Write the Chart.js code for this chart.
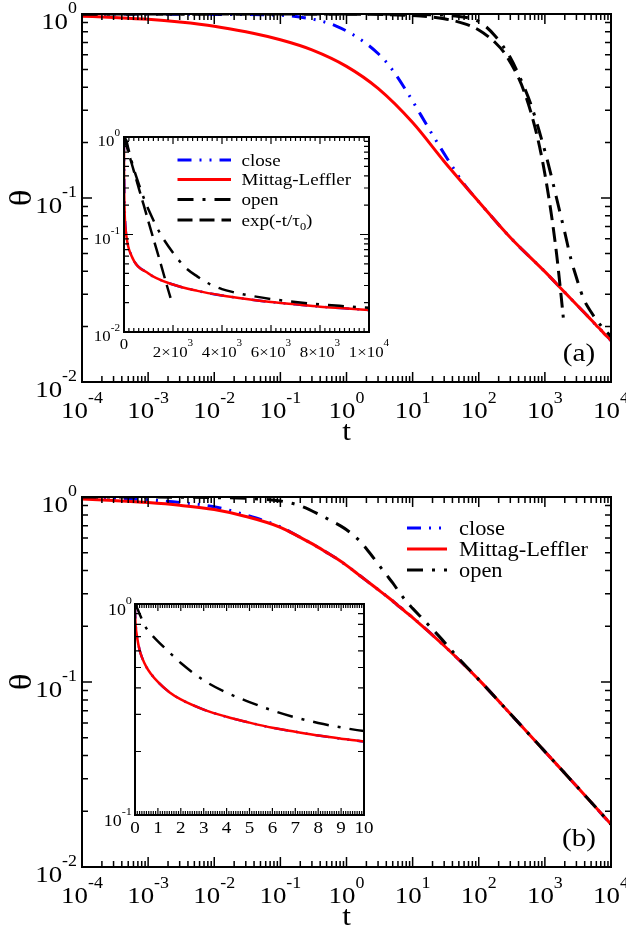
<!DOCTYPE html>
<html>
<head>
<meta charset="utf-8">
<title>theta(t) relaxation</title>
<script src="https://cdn.jsdelivr.net/npm/chart.js@4.4.1/dist/chart.umd.min.js"></script>
<style>
  html, body { margin: 0; padding: 0; background: #fff; }
  #page { position: relative; width: 626px; height: 930px; overflow: hidden; }
  canvas { position: absolute; }
</style>
</head>
<body>
<div id="page">
  <canvas id="mainA" width="626" height="465" style="left:0;top:0"></canvas>
  <canvas id="mainB" width="626" height="465" style="left:0;top:465px"></canvas>
  <canvas id="insetA" width="310" height="250" style="left:80px;top:120px"></canvas>
  <canvas id="insetB" width="290" height="260" style="left:90px;top:590px"></canvas>
</div>
<script>
// ---- panel (a) data ----
const tA_close = [1e-4, 1e-3, 1e-2, 0.1, 0.23, 0.44, 0.7, 1.2, 2, 3, 4.5, 8.5, 18, 27, 40, 60, 100, 300, 1000, 2000, 3000, 4000, 5000, 6000, 7000, 8000, 9000, 10000];
const closeA = [1.0, 0.999, 0.995, 0.985, 0.955, 0.91, 0.86, 0.78, 0.69, 0.61, 0.52, 0.37, 0.235, 0.185, 0.148, 0.119, 0.0955, 0.061, 0.0398, 0.0307, 0.0264, 0.0237, 0.0218, 0.0203, 0.0192, 0.0182, 0.0175, 0.0168];

const tA_ml = [1e-4, 3e-4, 1e-3, 3e-3, 1e-2, 3e-2, 0.1, 0.3, 1, 3, 10, 30, 100, 300, 1000, 2000, 3000, 4000, 5000, 6000, 7000, 8000, 9000, 10000];
const mlA = [0.973, 0.957, 0.935, 0.904, 0.859, 0.80, 0.724, 0.638, 0.519, 0.394, 0.257, 0.158, 0.0955, 0.061, 0.0398, 0.0307, 0.0264, 0.0237, 0.0218, 0.0203, 0.0192, 0.0182, 0.0175, 0.0168];

const tA_open = [1e-4, 1, 10, 50, 100, 177, 300, 400, 620, 870, 1000, 1230, 1500, 2000, 2500, 3000, 3500, 4000, 4500, 5000, 6000, 7000, 8000, 9000, 10000];
const openA = [1.0, 1.0, 0.995, 0.97, 0.91, 0.76, 0.58, 0.47, 0.32, 0.215, 0.18, 0.135, 0.10, 0.065, 0.046, 0.037, 0.031, 0.0275, 0.0255, 0.024, 0.0218, 0.0203, 0.0192, 0.0184, 0.0177];

const tA_exp = [1e-4, 1, 10, 30, 60, 100, 177, 250, 400, 500, 620, 750, 870, 1000, 1250, 1500, 1750, 1900];
const expA = [1.0, 0.998, 0.98, 0.942, 0.887, 0.819, 0.70, 0.607, 0.449, 0.368, 0.289, 0.223, 0.176, 0.135, 0.082, 0.050, 0.030, 0.0224];

// ---- panel (b) data ----
const tB = [1e-4, 3e-4, 1e-3, 3e-3, 1e-2, 3e-2, 0.1, 0.2, 0.3, 0.5, 0.7, 1, 1.5, 2, 3, 4, 5, 6, 7, 8, 9, 10, 30, 100, 300, 1000, 3000, 10000];
const mlB = [0.975, 0.957, 0.933, 0.902, 0.855, 0.785, 0.686, 0.605, 0.560, 0.502, 0.466, 0.427, 0.382, 0.353, 0.316, 0.292, 0.274, 0.259, 0.248, 0.238, 0.230, 0.223, 0.157, 0.103, 0.0673, 0.0421, 0.0274, 0.0170];
const closeB = [0.995, 0.985, 0.965, 0.935, 0.885, 0.80, 0.69, 0.605, 0.560, 0.502, 0.466, 0.427, 0.382, 0.353, 0.316, 0.292, 0.274, 0.259, 0.248, 0.238, 0.230, 0.223, 0.157, 0.103, 0.0673, 0.0421, 0.0274, 0.0170];

const tB_open = [1e-4, 1e-3, 1e-2, 0.05, 0.1, 0.2, 0.4, 0.6, 0.8, 1, 1.5, 2, 3, 4, 5, 6, 7, 8, 9, 10, 25, 50, 100, 300, 1000, 3000, 10000];
const openB = [1.0, 0.999, 0.993, 0.975, 0.952, 0.897, 0.80, 0.74, 0.70, 0.665, 0.59, 0.525, 0.435, 0.38, 0.343, 0.313, 0.29, 0.273, 0.26, 0.25, 0.177, 0.134, 0.103, 0.0673, 0.0421, 0.0274, 0.0170];

// ---- ticks and labels ----
const mainXTicks = [1e-4, 1e-3, 1e-2, 1e-1, 1, 10, 100, 1000, 10000];
const mainXExp = ['-4', '-3', '-2', '-1', '0', '1', '2', '3', '4'];
const mainYTicks = [0.01, 0.1, 1];
const mainYExp = ['-2', '-1', '0'];

const insetAXTicks = [0, 2000, 4000, 6000, 8000, 10000];
const insetAXBase = ['0', '2\u00d710', '4\u00d710', '6\u00d710', '8\u00d710', '1\u00d710'];
const insetAXExp = ['', '3', '3', '3', '3', '4'];
const insetAYTicks = [0.01, 0.1, 1];
const insetAYExp = ['-2', '-1', '0'];

const insetBXTicks = [0, 1, 2, 3, 4, 5, 6, 7, 8, 9, 10];
const insetBXLabels = ['0', '1', '2', '3', '4', '5', '6', '7', '8', '9', '10'];
const insetBYTicks = [0.1, 1];
const insetBYExp = ['-1', '0'];

const legendA = ['close', 'Mittag-Leffler', 'open', 'exp(-t/\u03c4'];
const legendB = ['close', 'Mittag-Leffler', 'open'];

// ---- styles ----
const SERIF = '"Liberation Serif", "DejaVu Serif", serif';
const STRETCH = 1.12;
const STYLE = {
    close: { color: '#0000ff', dash: [14, 8, 2, 8, 2, 8] },
    ml: { color: '#ff0000', dash: [] },
    open: { color: '#000000', dash: [16, 9, 3, 9] },
    exp: { color: '#000000', dash: [15, 7] }
};

function pairs(ts, vs) {
    return ts.map((t, i) => ({ x: t, y: vs[i] }));
}

function series(kind, ts, vs, width) {
    return {
        data: pairs(ts, vs),
        borderColor: STYLE[kind].color,
        borderDash: STYLE[kind].dash,
        borderWidth: width,
        pointRadius: 0,
        fill: false
    };
}

// Text helpers (slightly widened serif, like the reference)
function textW(ctx, s, size) {
    ctx.font = size + 'px ' + SERIF;
    return ctx.measureText(s).width * STRETCH;
}

function text(ctx, s, x, y, size, align) {
    const w = textW(ctx, s, size);
    const x0 = align === 'center' ? x - w / 2 : align === 'right' ? x - w : x;
    ctx.save();
    ctx.translate(x0, y);
    ctx.scale(STRETCH, 1);
    ctx.font = size + 'px ' + SERIF;
    ctx.fillStyle = '#000';
    ctx.textAlign = 'left';
    ctx.textBaseline = 'alphabetic';
    ctx.fillText(s, 0, 0);
    ctx.restore();
    return w;
}

function powText(ctx, base, sup, x, y, size, supSize, rise, align) {
    const wb = textW(ctx, base, size);
    const ws = sup ? textW(ctx, sup, supSize) : 0;
    const w = wb + ws;
    const x0 = align === 'center' ? x - w / 2 : align === 'right' ? x - w : x;
    text(ctx, base, x0, y, size, 'left');
    if (sup) text(ctx, sup, x0 + wb, y - rise, supSize, 'left');
}

function logMinor(lo, hi) {
    const out = [];
    for (let e = lo; e < hi; e++) {
        for (let m = 2; m <= 9; m++) out.push(m * Math.pow(10, e));
    }
    return out;
}

function linMinor(lo, hi, step) {
    const out = [];
    const n = Math.round((hi - lo) / step);
    for (let i = 0; i <= n; i++) out.push(lo + i * step);
    return out;
}

// frame with inward ticks on all four sides
function drawFrame(chart, s) {
    const ctx = chart.ctx, a = chart.chartArea;
    const xs = chart.scales.x, ys = chart.scales.y;
    ctx.save();
    ctx.strokeStyle = '#000';
    ctx.lineWidth = s.tickW;
    ctx.beginPath();
    const xt = (list, len) => list.forEach(v => {
        const p = xs.getPixelForValue(v);
        ctx.moveTo(p, a.bottom); ctx.lineTo(p, a.bottom - len);
        ctx.moveTo(p, a.top); ctx.lineTo(p, a.top + len);
    });
    const yt = (list, len) => list.forEach(v => {
        const p = ys.getPixelForValue(v);
        ctx.moveTo(a.left, p); ctx.lineTo(a.left + len, p);
        ctx.moveTo(a.right, p); ctx.lineTo(a.right - len, p);
    });
    xt(s.xMajor, s.xMajLen); xt(s.xMinor, s.xMinLen);
    yt(s.yMajor, s.yMajLen); yt(s.yMinor, s.yMinLen);
    ctx.stroke();
    ctx.lineWidth = s.frameW;
    ctx.strokeRect(a.left, a.top, a.right - a.left, a.bottom - a.top);
    ctx.restore();
}

function drawLegend(ctx, names, kinds, x1, x2, tx, ys, size, width) {
    names.forEach((name, i) => {
        const st = STYLE[kinds[i]];
        ctx.save();
        ctx.strokeStyle = st.color;
        ctx.lineWidth = width;
        ctx.setLineDash(st.dash);
        ctx.beginPath();
        ctx.moveTo(x1, ys[i]);
        ctx.lineTo(x2, ys[i]);
        ctx.stroke();
        ctx.restore();
        const w = text(ctx, name, tx, ys[i] + size * 0.33, size, 'left');
        if (kinds[i] === 'exp') {
            const ws = text(ctx, '0', tx + w, ys[i] + size * 0.33 + 4, size * 0.65, 'left');
            text(ctx, ')', tx + w + ws, ys[i] + size * 0.33, size, 'left');
        }
    });
}

function mainDeco(chart, letter) {
    const ctx = chart.ctx, a = chart.chartArea;
    const xs = chart.scales.x, ys = chart.scales.y;
    drawFrame(chart, {
        xMajor: mainXTicks, xMinor: logMinor(-4, 4),
        yMajor: mainYTicks, yMinor: logMinor(-2, 0),
        xMajLen: 10, xMinLen: 6, yMajLen: 10, yMinLen: 6, frameW: 2, tickW: 1.5
    });
    mainXTicks.forEach((v, i) => {
        powText(ctx, '10', mainXExp[i], xs.getPixelForValue(v), a.bottom + 36, 24, 16, 15, 'center');
    });
    mainYTicks.forEach((v, i) => {
        powText(ctx, '10', mainYExp[i], a.left - 5, ys.getPixelForValue(v) + 15, 24, 16, 16, 'right');
    });
    text(ctx, 't', (a.left + a.right) / 2, a.bottom + 58, 28, 'center');
    ctx.save();
    ctx.translate(21, (a.top + a.bottom) / 2);
    ctx.rotate(-Math.PI / 2);
    text(ctx, '\u03b8', 0, 10, 31, 'center');
    ctx.restore();
    text(ctx, letter, 579, a.bottom - 21, 26, 'center');
}

function baseOptions(xType, xMin, xMax, yMin, yMax, pad) {
    return {
        responsive: false,
        animation: false,
        events: [],
        layout: { padding: pad },
        plugins: { legend: { display: false }, tooltip: { enabled: false } },
        elements: { line: { cubicInterpolationMode: 'monotone', borderCapStyle: 'butt' } },
        scales: {
            x: { type: xType, min: xMin, max: xMax, display: false },
            y: { type: 'logarithmic', min: yMin, max: yMax, display: false }
        }
    };
}

// ---- panel (a) main ----
new Chart(document.getElementById('mainA'), {
    type: 'line',
    data: {
        datasets: [
            series('exp', tA_exp, expA, 3),
            series('open', tA_open, openA, 3),
            series('ml', tA_ml, mlA, 3),
            series('close', tA_close, closeA, 3)
        ]
    },
    options: baseOptions('logarithmic', 1e-4, 1e4, 0.01, 1, { left: 82, top: 14, right: 15, bottom: 83 }),
    plugins: [{ id: 'decoA', afterDatasetsDraw: c => mainDeco(c, '(a)') }]
});

// ---- panel (b) main ----
new Chart(document.getElementById('mainB'), {
    type: 'line',
    data: {
        datasets: [
            series('open', tB_open, openB, 3),
            series('ml', tB, mlB, 3),
            series('close', tB, closeB, 3)
        ]
    },
    options: baseOptions('logarithmic', 1e-4, 1e4, 0.01, 1, { left: 82, top: 32, right: 15, bottom: 63 }),
    plugins: [{
        id: 'decoB',
        afterDatasetsDraw: c => {
            mainDeco(c, '(b)');
            const ctx = c.ctx;
            ctx.save();
            ctx.translate(0, -465);
            drawLegend(ctx, legendB, ['close', 'ml', 'open'], 407, 447, 459, [528, 549, 570], 20, 3);
            ctx.restore();
        }
    }]
});

// ---- inset (a) ----
new Chart(document.getElementById('insetA'), {
    type: 'line',
    data: {
        datasets: [
            series('exp', tA_exp, expA, 2.5),
            series('open', tA_open, openA, 2.5),
            series('ml', tA_ml, mlA, 2.5),
            series('close', tA_close, closeA, 2.5)
        ]
    },
    options: baseOptions('linear', 0, 10000, 0.01, 1, { left: 44, top: 17, right: 21, bottom: 38 }),
    plugins: [{
        id: 'decoIA',
        afterDatasetsDraw: c => {
            const ctx = c.ctx, a = c.chartArea, xs = c.scales.x, ys = c.scales.y;
            drawFrame(c, {
                xMajor: insetAXTicks, xMinor: linMinor(0, 10000, 200),
                yMajor: insetAYTicks, yMinor: logMinor(-2, 0),
                xMajLen: 7, xMinLen: 4, yMajLen: 9, yMinLen: 5, frameW: 2, tickW: 1.2
            });
            insetAXTicks.forEach((v, i) => {
                const x = xs.getPixelForValue(v);
                if (insetAXExp[i]) powText(ctx, insetAXBase[i], insetAXExp[i], x, a.bottom + 25, 15, 10, 11, 'center');
                else text(ctx, insetAXBase[i], x, a.bottom + 17, 15, 'center');
            });
            insetAYTicks.forEach((v, i) => {
                powText(ctx, '10', insetAYExp[i], a.left - 4, ys.getPixelForValue(v) + 9, 15, 10, 10, 'right');
            });
            ctx.save();
            ctx.translate(-80, -120);
            drawLegend(ctx, legendA, ['close', 'ml', 'open', 'exp'], 177.5, 231, 241.5, [160, 179.5, 199.5, 220], 17, 3);
            ctx.restore();
        }
    }]
});

// ---- inset (b) ----
new Chart(document.getElementById('insetB'), {
    type: 'line',
    data: {
        datasets: [
            series('open', tB_open, openB, 2.5),
            series('ml', tB, mlB, 2.5),
            series('close', tB, closeB, 2.5)
        ]
    },
    options: baseOptions('linear', 0, 10, 0.1, 1, { left: 45, top: 14, right: 16, bottom: 35 }),
    plugins: [{
        id: 'decoIB',
        afterDatasetsDraw: c => {
            const ctx = c.ctx, a = c.chartArea, xs = c.scales.x, ys = c.scales.y;
            drawFrame(c, {
                xMajor: insetBXTicks, xMinor: linMinor(0, 10, 0.1),
                yMajor: insetBYTicks, yMinor: logMinor(-1, 0),
                xMajLen: 7, xMinLen: 4, yMajLen: 8, yMinLen: 6, frameW: 2, tickW: 1.2
            });
            insetBXTicks.forEach((v, i) => {
                text(ctx, insetBXLabels[i], xs.getPixelForValue(v), a.bottom + 18, 17, 'center');
            });
            insetBYTicks.forEach((v, i) => {
                powText(ctx, '10', insetBYExp[i], a.left - 3, ys.getPixelForValue(v) + 11, 16, 11, 11, 'right');
            });
        }
    }]
});
</script>
</body>
</html>
